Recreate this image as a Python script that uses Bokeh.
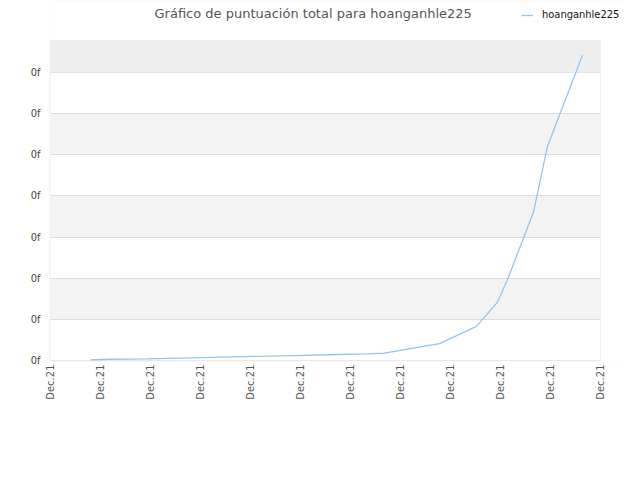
import math
from bokeh.plotting import figure
from bokeh.models import (FixedTicker, Range1d, BoxAnnotation, Legend, LegendItem, Label)
from bokeh.embed import file_html
from bokeh.resources import INLINE

# ---- data ----
series_name = "hoanganhle225"
title_text = "Gráfico de puntuación total para hoanganhle225"
x_ticks = [0, 1, 2, 3, 4, 5, 6, 7, 8, 9, 10, 11]
x_tick_labels = ["Dec.21"] * 12
y_ticks = [0, 1, 2, 3, 4, 5, 6, 7]
y_tick_labels = ["0f"] * 8
x_values = [0.80, 1.18, 1.92, 2.64, 3.38, 4.12, 4.86, 5.58, 6.32, 6.68,
            7.78, 8.52, 8.94, 9.16, 9.66, 9.94, 10.64]
y_values = [0.012, 0.03, 0.04, 0.06, 0.08, 0.10, 0.12, 0.14, 0.16, 0.18,
            0.41, 0.83, 1.42, 2.03, 3.61, 5.21, 7.42]

# layout constants (pixels)
PLOT_W = 550          # width of the boxed plot area
EXTRA_W = 24          # strip right of it (room for the legend text)
PLOT_H = 320          # height of the boxed plot area
HEADER_H = 40         # header strip above it
PAD = 1               # 1px pad left/below so the border line is not clipped
X_END = x_ticks[-1]
Y_TOP = 7.78          # top of the boxed plot area in data units
PX_X = PLOT_W / X_END
PX_Y = PLOT_H / Y_TOP
X_MIN = -PAD / PX_X
Y_MIN = -PAD / PX_Y
X_MAX = (PLOT_W + EXTRA_W) / PX_X
Y_MAX = (PLOT_H + HEADER_H) / PX_Y

p = figure(width=624, height=465,
           frame_width=PLOT_W + EXTRA_W + PAD, frame_height=PLOT_H + HEADER_H + PAD,
           output_backend="svg", toolbar_location=None, title_location=None,
           x_range=Range1d(X_MIN, X_MAX), y_range=Range1d(Y_MIN, Y_MAX),
           min_border_left=50 - PAD, min_border_right=0, min_border_top=0, min_border_bottom=104)
p.background_fill_color = "#f3f3f3"
p.border_fill_color = "white"
p.outline_line_color = None

# grids / bands (white bands over a light grey background)
p.xgrid.grid_line_color = None
p.ygrid.grid_line_color = "#dddddd"
p.ygrid.band_fill_color = "white"
p.ygrid.band_fill_alpha = 1.0
p.ygrid.bounds = (0, Y_TOP)
p.ygrid.cross_bounds = (0, X_END)
p.add_layout(BoxAnnotation(left=0, right=X_END, bottom=y_ticks[-1], top=Y_TOP,
                           fill_color="#eeeeee", fill_alpha=1.0, line_color=None, level="underlay"))
# keep the header strip and padding white
for l, rgt, b, t in [(X_MIN, X_MAX, Y_TOP, Y_MAX), (X_MIN, 0, Y_MIN, Y_MAX),
                     (X_END, X_MAX, Y_MIN, Y_MAX), (X_MIN, X_MAX, Y_MIN, 0)]:
    p.add_layout(BoxAnnotation(left=l, right=rgt, bottom=b, top=t,
                               fill_color="white", fill_alpha=1.0, line_color=None, level="underlay"))
# plot-area border
p.add_layout(BoxAnnotation(left=0, right=X_END, bottom=0, top=Y_TOP,
                           fill_alpha=0, line_color="#dddddd", line_width=1, level="overlay"))

# axes
p.xaxis.ticker = FixedTicker(ticks=x_ticks)
p.xaxis.major_label_overrides = {t: l for t, l in zip(x_ticks, x_tick_labels)}
p.xaxis.major_label_orientation = math.pi / 2
p.yaxis.ticker = FixedTicker(ticks=y_ticks)
p.yaxis.major_label_overrides = {t: l for t, l in zip(y_ticks, y_tick_labels)}
for ax in (p.xaxis, p.yaxis):
    ax.axis_line_color = None
    ax.major_tick_line_color = None
    ax.minor_tick_line_color = None
    ax.major_tick_out = 0
    ax.major_tick_in = 0
p.xaxis.major_label_text_font = "DejaVu Sans"
p.xaxis.major_label_text_font_size = "10px"
p.xaxis.major_label_text_color = "#555555"
p.xaxis.major_label_standoff = 3
p.yaxis.major_label_text_font = "DejaVu Sans Condensed"
p.yaxis.major_label_text_font_size = "11px"
p.yaxis.major_label_text_color = "#444444"
p.yaxis.major_label_standoff = 9

r = p.line(x_values, y_values, line_color="#94c5f0", line_width=1.3)

# title in the header strip
p.add_layout(Label(x=104 + PAD, y=PLOT_H + HEADER_H + PAD - 13, x_units="screen", y_units="screen",
                   text=title_text, text_font="DejaVu Sans", text_font_size="13px",
                   text_color="#555555", text_baseline="middle", text_align="left"))

legend = Legend(items=[LegendItem(label=series_name, renderers=[r])],
                location=(471 + PAD, PLOT_H + HEADER_H + PAD - 21), orientation="horizontal",
                glyph_width=12, glyph_height=12, label_height=12, label_standoff=9,
                padding=0, margin=0, spacing=0, border_line_color=None,
                background_fill_alpha=0, label_text_font="DejaVu Sans Condensed",
                label_text_font_size="11px", label_text_color="#111111")
p.add_layout(legend, "center")

open("out.html", "w").write(file_html(p, INLINE))
